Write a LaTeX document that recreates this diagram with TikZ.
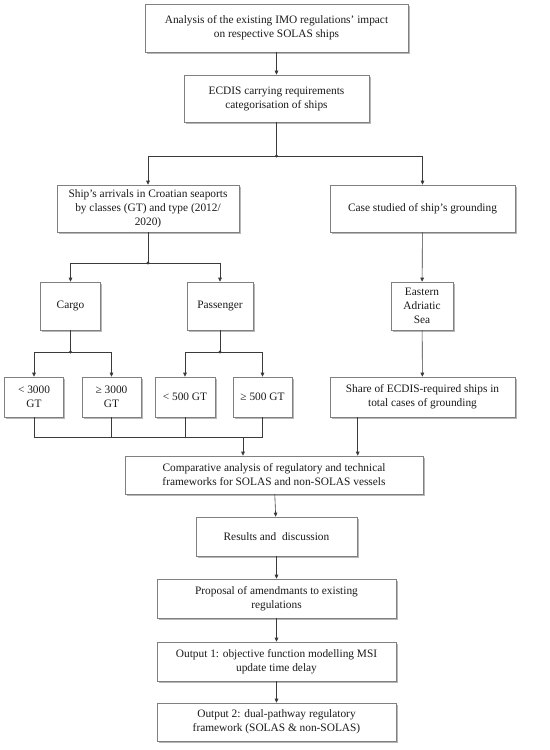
\documentclass[tikz,border=0pt]{standalone}
\usepackage{fontspec}
\setmainfont{Liberation Serif}
\usetikzlibrary{arrows.meta,shadows,calc}
\definecolor{boxline}{HTML}{808080}
\definecolor{conn}{HTML}{3A3A3A}
\definecolor{txt}{HTML}{1A1A1A}
\begin{document}
\begin{tikzpicture}[x=1bp,y=-1bp,
  box/.style={draw=boxline, line width=0.6bp, fill=white, align=center, inner sep=1bp,
    text=txt, font=\fontsize{11.4}{14}\selectfont,
    drop shadow={shadow xshift=1.6bp, shadow yshift=-1.8bp, fill=black!40, opacity=0.7}},
  arr/.style={draw=conn, line width=0.6bp, -{Triangle[length=4bp,width=3.6bp]}},
  ln/.style={draw=conn, line width=0.6bp},
  dot/.style={fill=conn}]
\useasboundingbox (0,0) rectangle (550,750);

\node[box, minimum width=263bp, minimum height=48bp] (b1) at (276.5,28)
  {Analysis of the existing IMO regulations’ impact\\ on respective SOLAS ships};
\node[box, minimum width=185bp, minimum height=47bp] (b2) at (276.5,98.5)
  {ECDIS carrying requirements\\ categorisation of ships};
\node[box, minimum width=182bp, minimum height=47bp] (b3) at (148,208.5)
  {Ship’s arrivals in Croatian seaports\\ by classes (GT) and type (2012/\\ 2020)};
\node[box, minimum width=185bp, minimum height=47bp] (b4) at (422.5,208.5)
  {Case studied of ship’s grounding};
\node[box, minimum width=60bp, minimum height=48bp] (cargo) at (70.5,306) {Cargo};
\node[box, minimum width=66bp, minimum height=48bp] (pass) at (220,306) {Passenger};
\node[box, minimum width=62bp, minimum height=48bp] (east) at (422,306) {Eastern\\ Adriatic\\ Sea};
\node[box, minimum width=59bp, minimum height=40bp] (s1) at (34,397) {< 3000\\ GT};
\node[box, minimum width=59bp, minimum height=40bp] (s2) at (111.5,397) {≥ 3000\\ GT};
\node[box, minimum width=60bp, minimum height=40bp] (s3) at (185,397) {< 500 GT};
\node[box, minimum width=59bp, minimum height=40bp] (s4) at (262.5,397) {≥ 500 GT};
\node[box, minimum width=185bp, minimum height=40bp] (share) at (422.5,397)
  {Share of ECDIS-required ships in\\ total cases of grounding};
\node[box, minimum width=298bp, minimum height=38bp] (comp) at (274,475)
  {Comparative analysis of regulatory and technical\\ frameworks for SOLAS and non-SOLAS vessels};
\node[box, minimum width=161bp, minimum height=39bp] (res) at (276.5,536.5)
  {Results and\ \ discussion};
\node[box, minimum width=239bp, minimum height=39bp] (prop) at (276.5,598.5)
  {Proposal of amendmants to existing\\ regulations};
\node[box, minimum width=239bp, minimum height=39bp] (out1) at (276.5,661.5)
  {Output 1: objective function modelling MSI\\ update time delay};
\node[box, minimum width=239bp, minimum height=38bp] (out2) at (276.5,722)
  {Output 2: dual-pathway regulatory\\ framework (SOLAS \& non-SOLAS)};

\coordinate (j1) at (276.5,156);
\coordinate (j2) at (148,263);
\coordinate (j3) at (70.5,352);
\coordinate (j4) at (220,352);
\coordinate (m) at (243,437);

\draw[arr] (b1) -- (b2);
\draw[ln] (b2.south) -- (j1);
\draw[arr] (j1) -| (b3.north);
\draw[arr] (j1) -| (b4.north);
\draw[ln] (b3.south) -- (j2);
\draw[arr] (j2) -| (cargo.north);
\draw[arr] (j2) -| (pass.north);
\draw[arr] (b4) -- (east);
\draw[ln] (cargo.south) -- (j3);
\draw[arr] (j3) -| (s1.north);
\draw[arr] (j3) -| (s2.north);
\draw[ln] (pass.south) -- (j4);
\draw[arr] (j4) -| (s3.north);
\draw[arr] (j4) -| (s4.north);
\draw[arr] (east) -- (share);
\draw[ln] (s1.south) -- (s1.south |- m) -- (s4.south |- m) -- (s4.south);
\draw[ln] (s2.south) -- (s2.south |- m);
\draw[ln] (s3.south) -- (s3.south |- m);
\draw[arr] (m) -- (m |- comp.north);
\draw[arr] ([xshift=28bp]share.south west) -- ([xshift=28bp]share.south west |- comp.north);
\draw[arr] (comp) -- (res);
\draw[arr] (res) -- (prop);
\draw[arr] (prop) -- (out1);
\draw[arr] (out1) -- (out2);

\foreach \j in {j1,j2,j3,j4} \fill[dot] (\j) circle (1.7bp);
\end{tikzpicture}
\end{document}
